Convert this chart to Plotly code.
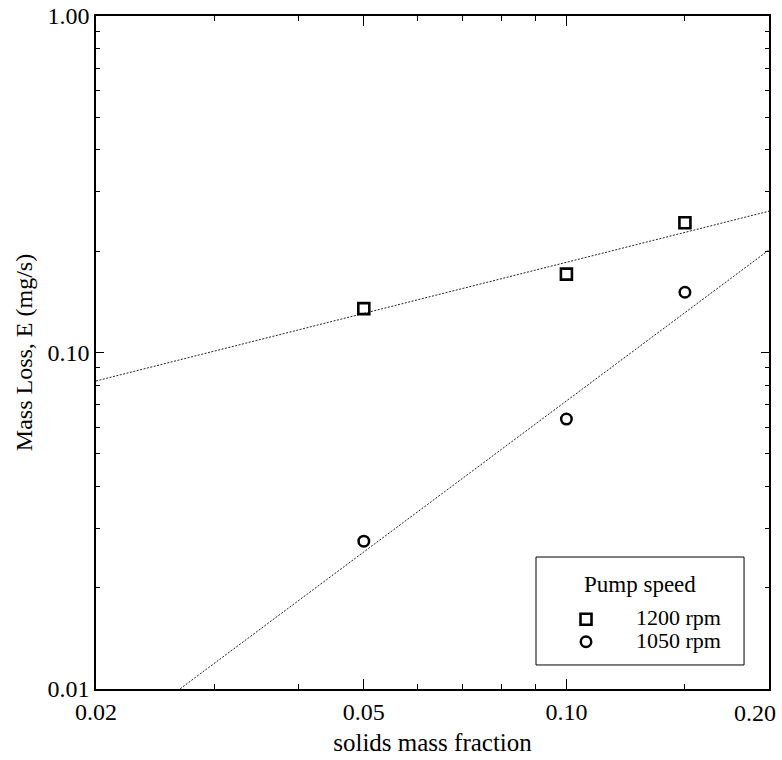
import math
import plotly.graph_objects as go

# data
solids_fraction = [0.05, 0.10, 0.15]
loss_1200 = [0.135, 0.171, 0.243]
loss_1050 = [0.0275, 0.0634, 0.151]

# fitted power-law lines (end values)
fit_x = [0.02, 0.20]
fit_1200 = [0.0823, 0.263]
fit_1050 = [0.00652, 0.2017]

series_names = ["1200 rpm", "1050 rpm"]
legend_title = "Pump speed"

x_major = [0.02, 0.05, 0.10, 0.20]
x_major_text = ["0.02", "0.05", "0.10", ""]
x_last_label = "0.20"
x_minor = [0.03, 0.04, 0.06, 0.07, 0.08, 0.09, 0.15]
y_major = [0.01, 0.1, 1.0]
y_major_text = ["0.01", "0.10", "1.00"]
y_minor = [0.02, 0.03, 0.04, 0.05, 0.06, 0.07, 0.08, 0.09,
           0.2, 0.3, 0.4, 0.5, 0.6, 0.7, 0.8, 0.9]

FONT = "Liberation Serif"


def legend_name(s):
    return '<span style="font-size:22px">' + s + "</span>"


fig = go.Figure()

fig.add_trace(go.Scatter(x=fit_x, y=fit_1200, mode="lines", showlegend=False,
                         line=dict(color="#222", width=1, dash="2px,1.5px"), hoverinfo="skip"))
fig.add_trace(go.Scatter(x=fit_x, y=fit_1050, mode="lines", showlegend=False,
                         line=dict(color="#222", width=1, dash="2px,1.5px"), hoverinfo="skip"))
fig.add_trace(go.Scatter(x=solids_fraction, y=loss_1200, mode="markers", name=legend_name(series_names[0]),
                         marker=dict(symbol="square-open", size=11, color="black",
                                     line=dict(color="black", width=2.6))))
fig.add_trace(go.Scatter(x=solids_fraction, y=loss_1050, mode="markers", name=legend_name(series_names[1]),
                         marker=dict(symbol="circle-open", size=10.5, color="black",
                                     line=dict(color="black", width=2.5))))
# invisible trace on overlay axes so minor ticks render
fig.add_trace(go.Scatter(x=[0.05], y=[0.1], mode="markers", xaxis="x2", yaxis="y2",
                         showlegend=False, marker=dict(opacity=0), hoverinfo="skip"))

xr = [0.02, 0.2]
yr = [0.01, 1.0]
xlr = [math.log10(v) for v in xr]
ylr = [math.log10(v) for v in yr]

fig.update_layout(
    width=782, height=760,
    margin=dict(l=96, r=13, t=16, b=71, autoexpand=False),
    paper_bgcolor="white", plot_bgcolor="white",
    font=dict(family=FONT, color="black", size=24),
    xaxis=dict(type="log", range=xlr, tickmode="array", tickvals=x_major, ticktext=x_major_text,
               ticks="inside", ticklen=10, tickwidth=1.2, tickcolor="black",
               showline=True, linecolor="black", linewidth=1.5, mirror="ticks",
               showgrid=False, zeroline=False, tickfont=dict(size=24), automargin=False,
               title=dict(text="solids mass fraction", font=dict(size=25), standoff=10)),
    yaxis=dict(type="log", range=ylr, tickmode="array", tickvals=y_major, ticktext=y_major_text,
               ticks="inside", ticklen=8, tickwidth=1.2, tickcolor="black",
               showline=True, linecolor="black", linewidth=1.5, mirror="ticks",
               showgrid=False, zeroline=False, tickfont=dict(size=24), automargin=False,
               title=dict(text="Mass Loss, E (mg/s)", font=dict(size=24), standoff=8)),
    xaxis2=dict(type="log", range=xlr, overlaying="x", side="bottom", tickmode="array",
                tickvals=x_minor, ticks="inside", ticklen=5, tickwidth=1.2, tickcolor="black",
                showticklabels=False, showline=False, mirror="ticks", showgrid=False,
                zeroline=False, automargin=False),
    yaxis2=dict(type="log", range=ylr, overlaying="y", side="left", tickmode="array",
                tickvals=y_minor, ticks="inside", ticklen=4, tickwidth=1.2, tickcolor="black",
                showticklabels=False, showline=False, mirror="ticks", showgrid=False,
                zeroline=False, automargin=False),
    legend=dict(x=0.6538, y=0.1278, xanchor="left", yanchor="top",
                borderwidth=0, bgcolor="rgba(0,0,0,0)",
                font=dict(size=15), itemwidth=90),
    showlegend=True,
    shapes=[dict(type="rect", xref="paper", yref="paper", x0=0.6538, x1=0.9629,
                 y0=0.0357, y1=0.1961, line=dict(color="black", width=1),
                 fillcolor="white", layer="below")],
    annotations=[
        dict(x=math.log10(xr[1]), y=0, xref="x", yref="paper", text=x_last_label,
             showarrow=False, xanchor="right", yanchor="top", xshift=9, yshift=-9,
             font=dict(size=24)),
        dict(x=0.808, y=0.156, xref="paper", yref="paper", text=legend_title,
             showarrow=False, xanchor="center", yanchor="middle", font=dict(size=23)),
    ],
)

fig.write_html("out.html", post_script="document.body.style.margin='0';",
               config={"displayModeBar": False})
